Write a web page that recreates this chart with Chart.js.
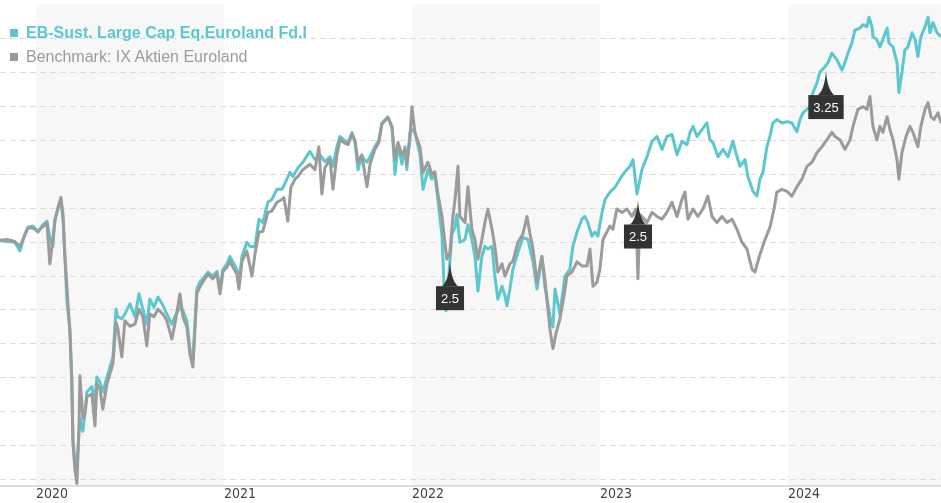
<!DOCTYPE html>
<html>
<head>
<meta charset="utf-8">
<script src="https://cdn.jsdelivr.net/npm/chart.js@4.4.1/dist/chart.umd.min.js"></script>
<style>
  html, body { margin: 0; padding: 0; background: #fff; }
  #wrap { position: relative; width: 941px; height: 503px; }
  #legend {
    position: absolute; left: 10px; top: 21px;
    font-family: Arial, "Liberation Sans", sans-serif; font-size: 16px; line-height: 24px;
  }
  #legend .sq { display: inline-block; width: 8px; height: 8px; margin-right: 8px; vertical-align: 1px; }
  #legend .fund { color: #5bc7cf; font-weight: bold; }
  #legend .bench { color: #9b9b9b; }
</style>
</head>
<body>
<div id="wrap">
  <canvas id="chart" width="941" height="503"></canvas>
  <div id="legend">
    <div class="fund"><span class="sq" style="background:#5bc7cf"></span>EB-Sust. Large Cap Eq.Euroland Fd.I</div>
    <div class="bench"><span class="sq" style="background:#9b9b9b"></span>Benchmark: IX Aktien Euroland</div>
  </div>
</div>
<script>
// performance in % since start, dates as decimal years
const fundDates = [2019.809,2019.846,2019.888,2019.915,2019.941,2019.957,2019.984,2020.011,2020.032,2020.059,2020.074,2020.090,2020.101,2020.117,2020.133,2020.144,2020.154,2020.165,2020.181,2020.191,2020.197,2020.207,2020.218,2020.234,2020.250,2020.261,2020.271,2020.298,2020.314,2020.324,2020.340,2020.356,2020.378,2020.394,2020.410,2020.426,2020.436,2020.457,2020.473,2020.500,2020.527,2020.548,2020.569,2020.590,2020.606,2020.628,2020.649,2020.676,2020.697,2020.723,2020.739,2020.766,2020.782,2020.803,2020.819,2020.835,2020.856,2020.872,2020.899,2020.915,2020.941,2020.963,2020.979,2020.995,2021.016,2021.032,2021.048,2021.069,2021.080,2021.096,2021.122,2021.138,2021.165,2021.186,2021.207,2021.234,2021.255,2021.282,2021.309,2021.335,2021.351,2021.367,2021.394,2021.420,2021.457,2021.484,2021.511,2021.537,2021.564,2021.580,2021.601,2021.617,2021.638,2021.660,2021.681,2021.697,2021.713,2021.734,2021.761,2021.777,2021.803,2021.824,2021.840,2021.872,2021.894,2021.910,2021.926,2021.947,2021.963,2021.973,2021.989,2022.005,2022.016,2022.043,2022.059,2022.085,2022.106,2022.122,2022.138,2022.160,2022.170,2022.181,2022.191,2022.202,2022.213,2022.229,2022.239,2022.255,2022.282,2022.298,2022.319,2022.335,2022.351,2022.372,2022.388,2022.404,2022.426,2022.441,2022.457,2022.479,2022.495,2022.505,2022.521,2022.537,2022.564,2022.590,2022.617,2022.644,2022.665,2022.691,2022.707,2022.734,2022.750,2022.761,2022.787,2022.814,2022.840,2022.856,2022.878,2022.904,2022.920,2022.936,2022.957,2022.973,2022.989,2023.011,2023.027,2023.053,2023.080,2023.106,2023.133,2023.160,2023.176,2023.197,2023.223,2023.250,2023.277,2023.303,2023.330,2023.356,2023.383,2023.410,2023.436,2023.463,2023.479,2023.495,2023.516,2023.543,2023.569,2023.585,2023.601,2023.628,2023.654,2023.681,2023.707,2023.729,2023.745,2023.771,2023.787,2023.814,2023.835,2023.851,2023.867,2023.888,2023.904,2023.920,2023.941,2023.968,2023.995,2024.021,2024.048,2024.064,2024.080,2024.101,2024.117,2024.133,2024.154,2024.170,2024.197,2024.213,2024.234,2024.261,2024.287,2024.303,2024.319,2024.340,2024.356,2024.383,2024.399,2024.420,2024.431,2024.447,2024.452,2024.473,2024.489,2024.505,2024.527,2024.537,2024.559,2024.580,2024.590,2024.606,2024.622,2024.638,2024.660,2024.676,2024.691,2024.707,2024.729,2024.745,2024.755,2024.771,2024.793,2024.814];
const fundValues = [0.3,0.1,0.0,-1.3,1.2,2.2,2.4,1.5,2.4,3.1,0.7,-0.7,3.4,4.9,6.0,3.4,-2.1,-8.8,-12.8,-20.1,-29.0,-32.4,-32.9,-26.0,-27.9,-25.0,-22.1,-21.3,-23.8,-19.9,-20.6,-22.1,-19.9,-18.4,-16.9,-9.9,-11.0,-11.3,-10.6,-9.1,-11.0,-7.6,-9.9,-12.1,-8.4,-9.6,-8.1,-9.3,-10.6,-12.1,-11.0,-9.6,-10.1,-11.6,-15.7,-17.5,-6.9,-5.9,-5.0,-4.4,-5.0,-4.3,-6.9,-4.0,-3.2,-2.1,-2.9,-4.0,-5.9,-2.1,0.0,-0.6,-0.7,3.4,2.9,5.9,6.3,7.8,7.8,9.3,10.3,9.7,11.0,11.8,13.4,12.2,12.9,11.9,12.6,11.2,14.1,15.6,15.1,14.7,16.2,14.7,10.7,12.6,11.8,12.6,14.1,15.1,17.6,18.5,17.1,10.0,14.4,11.5,14.1,10.7,16.2,16.6,16.2,12.9,7.8,10.7,9.3,10.0,6.3,0.9,-5.9,-10.1,-6.9,-2.8,1.2,2.2,4.1,0.0,0.4,2.6,0.4,-2.1,-7.2,-2.1,-0.6,-1.0,-0.6,-5.0,-8.4,-6.5,-7.9,-9.4,-6.9,-4.0,-1.5,0.7,0.4,-2.9,-6.9,-2.1,-6.5,-10.9,-12.5,-6.9,-10.6,-5.0,-4.0,-0.6,1.5,3.4,3.8,2.9,0.9,1.5,0.9,4.4,6.3,7.4,8.1,9.3,10.4,11.2,12.2,7.1,10.7,12.6,14.9,15.6,13.7,15.6,15.9,12.9,14.9,14.4,16.2,17.1,15.6,16.6,17.6,15.1,14.7,12.6,13.7,12.6,14.9,12.6,11.2,12.2,9.7,7.5,6.8,9.3,10.3,14.1,15.6,17.6,18.1,17.6,17.8,17.6,16.3,18.1,19.1,19.6,20.0,22.1,23.5,25.1,25.9,26.5,27.9,26.9,25.4,26.5,27.9,29.4,31.3,31.6,32.1,31.8,33.2,31.8,30.3,29.9,28.8,29.9,31.6,29.4,28.8,26.5,22.1,25.0,28.4,28.8,30.9,29.9,27.4,30.3,31.8,33.2,30.9,32.4,30.9,30.3];

const benchDates = [2019.809,2019.846,2019.888,2019.915,2019.941,2019.957,2019.984,2020.011,2020.032,2020.059,2020.074,2020.090,2020.101,2020.117,2020.133,2020.144,2020.154,2020.165,2020.181,2020.191,2020.197,2020.207,2020.218,2020.229,2020.234,2020.250,2020.261,2020.271,2020.298,2020.314,2020.324,2020.340,2020.356,2020.378,2020.394,2020.410,2020.426,2020.436,2020.457,2020.473,2020.500,2020.527,2020.548,2020.569,2020.590,2020.606,2020.628,2020.649,2020.676,2020.697,2020.723,2020.739,2020.766,2020.782,2020.803,2020.819,2020.835,2020.856,2020.872,2020.899,2020.915,2020.941,2020.963,2020.979,2020.995,2021.016,2021.032,2021.048,2021.069,2021.080,2021.096,2021.122,2021.149,2021.165,2021.186,2021.207,2021.234,2021.255,2021.282,2021.309,2021.319,2021.340,2021.356,2021.378,2021.394,2021.420,2021.457,2021.484,2021.505,2021.521,2021.537,2021.564,2021.580,2021.601,2021.617,2021.638,2021.660,2021.681,2021.697,2021.713,2021.734,2021.750,2021.761,2021.777,2021.803,2021.824,2021.840,2021.872,2021.894,2021.910,2021.926,2021.947,2021.963,2021.973,2021.989,2022.000,2022.016,2022.043,2022.059,2022.085,2022.106,2022.122,2022.138,2022.160,2022.176,2022.186,2022.202,2022.218,2022.229,2022.245,2022.255,2022.282,2022.298,2022.319,2022.335,2022.351,2022.372,2022.388,2022.404,2022.426,2022.441,2022.457,2022.479,2022.495,2022.521,2022.537,2022.564,2022.590,2022.612,2022.628,2022.644,2022.665,2022.691,2022.707,2022.734,2022.750,2022.766,2022.787,2022.809,2022.824,2022.851,2022.878,2022.904,2022.931,2022.947,2022.963,2022.984,2023.000,2023.016,2023.037,2023.053,2023.069,2023.090,2023.117,2023.144,2023.170,2023.191,2023.202,2023.213,2023.223,2023.250,2023.277,2023.303,2023.330,2023.356,2023.383,2023.410,2023.436,2023.452,2023.468,2023.495,2023.521,2023.548,2023.574,2023.596,2023.622,2023.649,2023.676,2023.702,2023.729,2023.755,2023.782,2023.809,2023.824,2023.851,2023.878,2023.904,2023.926,2023.941,2023.968,2023.995,2024.021,2024.048,2024.074,2024.101,2024.128,2024.154,2024.181,2024.207,2024.234,2024.250,2024.277,2024.303,2024.330,2024.346,2024.372,2024.399,2024.420,2024.436,2024.452,2024.473,2024.489,2024.505,2024.527,2024.543,2024.559,2024.580,2024.590,2024.606,2024.628,2024.649,2024.665,2024.691,2024.707,2024.729,2024.745,2024.761,2024.777,2024.798,2024.814];
const benchValues = [0.3,0.4,0.1,-0.6,1.0,2.1,2.1,1.6,2.2,2.8,-3.2,0.4,3.1,5.1,6.6,4.1,-1.8,-6.6,-13.5,-20.9,-29.7,-33.4,-35.6,-27.5,-19.7,-26.0,-25.3,-22.8,-22.4,-27.1,-20.9,-21.6,-24.6,-20.9,-19.4,-17.9,-11.8,-12.8,-16.9,-11.6,-12.4,-12.1,-9.9,-11.0,-15.3,-10.6,-11.0,-9.9,-10.6,-11.6,-14.3,-12.1,-7.6,-11.0,-12.5,-16.5,-18.4,-7.6,-6.6,-5.4,-4.7,-5.4,-4.7,-7.6,-4.3,-3.7,-2.8,-3.7,-4.7,-6.9,-2.8,-1.3,-5.0,-1.8,1.5,1.6,4.4,4.6,5.9,6.3,6.6,3.1,8.1,9.3,9.7,10.7,11.5,10.7,14.1,7.1,11.0,12.2,7.8,12.9,15.1,14.7,14.4,15.9,15.1,11.8,12.9,10.0,8.2,11.5,13.7,14.7,17.4,18.4,16.9,12.2,14.7,12.9,13.7,11.5,15.1,20.0,16.2,14.0,10.3,11.8,10.0,10.4,7.1,3.8,-0.3,-2.5,-1.5,3.8,6.3,11.2,3.8,2.9,8.2,1.9,0.4,-2.5,0.4,2.9,4.9,1.9,-0.6,-4.4,-3.2,-5.0,-3.2,-2.8,0.0,1.2,3.8,1.2,-1.0,-5.9,-2.1,-5.4,-12.8,-15.7,-13.5,-11.3,-7.9,-5.0,-4.4,-2.9,-3.5,-3.5,-1.0,-6.5,-5.9,-4.0,0.4,1.5,2.4,1.9,4.9,4.4,4.9,3.8,4.9,-5.4,4.1,3.8,2.9,4.4,3.8,3.4,4.4,5.9,3.8,6.3,7.4,3.4,4.9,3.8,4.9,6.8,3.8,2.9,3.8,2.9,3.4,1.9,0.0,-1.0,-4.0,-4.4,-1.8,0.4,2.2,4.9,7.4,7.8,7.5,6.8,8.2,9.3,11.2,11.8,13.2,14.1,15.1,16.2,15.6,15.1,13.7,15.1,17.1,19.6,20.0,19.6,21.5,17.1,15.1,17.1,16.2,18.5,16.6,15.1,12.2,9.3,13.2,15.6,17.1,16.2,14.1,17.1,19.6,20.6,18.5,18.1,19.1,17.6];

// distribution flags
const flagDates = [2022.202, 2023.202, 2024.202];
const flagValues = [-2.8, 6.3, 25.4];
const flagLabels = ['2.5', '2.5', '3.25'];

const yearTicks = [2020, 2021, 2022, 2023, 2024];
const shadedYears = [2020, 2022, 2024];

const toPoints = (xs, ys) => xs.map((x, i) => ({ x: x, y: ys[i] }));

const bandsPlugin = {
  id: 'bands',
  beforeDraw(chart) {
    const { ctx, chartArea, scales } = chart;
    ctx.save();
    ctx.fillStyle = '#f7f7f7';
    shadedYears.forEach(yr => {
      const x1 = Math.max(scales.x.getPixelForValue(yr), chartArea.left);
      const x2 = Math.min(scales.x.getPixelForValue(yr + 1), chartArea.right);
      ctx.fillRect(x1, chartArea.top, x2 - x1, chartArea.bottom - chartArea.top);
    });
    ctx.restore();
  }
};

const flagsPlugin = {
  id: 'flags',
  afterDatasetsDraw(chart) {
    const { ctx, scales } = chart;
    ctx.save();
    ctx.font = '13px Arial, "Liberation Sans", sans-serif';
    ctx.textAlign = 'center';
    ctx.textBaseline = 'middle';
    flagDates.forEach((d, i) => {
      const x = Math.round(scales.x.getPixelForValue(d));
      const y = scales.y.getPixelForValue(flagValues[i]);
      const w = ctx.measureText(flagLabels[i]).width + 10;
      const h = 24;
      const top = y + 25;
      ctx.fillStyle = '#333333';
      ctx.beginPath();
      ctx.moveTo(x, y);
      ctx.quadraticCurveTo(x + 1, top - 6, x + 8, top);
      ctx.lineTo(x - 8, top);
      ctx.quadraticCurveTo(x - 1, top - 6, x, y);
      ctx.fill();
      ctx.fillRect(x - w / 2, top, w, h);
      ctx.fillStyle = '#ffffff';
      ctx.fillText(flagLabels[i], x, top + h / 2 + 1);
    });
    ctx.restore();
  }
};

new Chart(document.getElementById('chart'), {
  type: 'line',
  data: {
    datasets: [
      {
        label: 'Benchmark: IX Aktien Euroland',
        data: toPoints(benchDates, benchValues),
        borderColor: '#9b9b9b',
        borderWidth: 3
      },
      {
        label: 'EB-Sust. Large Cap Eq.Euroland Fd.I',
        data: toPoints(fundDates, fundValues),
        borderColor: '#5bc7cf',
        borderWidth: 3
      }
    ]
  },
  options: {
    responsive: false,
    animation: false,
    layout: { padding: { top: 4, left: 0, right: 0 } },
    elements: {
      point: { radius: 0 },
      line: { tension: 0, borderJoinStyle: 'round' }
    },
    plugins: {
      legend: { display: false },
      tooltip: { enabled: false }
    },
    scales: {
      x: {
        type: 'linear',
        min: fundDates[0],
        max: fundDates[fundDates.length - 1],
        afterBuildTicks: axis => { axis.ticks = yearTicks.map(v => ({ value: v })); },
        grid: { display: false, drawTicks: false },
        border: { display: true, color: '#dddddd', width: 2 },
        ticks: {
          align: 'start',
          padding: 0,
          color: '#444444',
          autoSkip: false,
          maxRotation: 0,
          font: { family: '"DejaVu Sans Condensed", "Liberation Sans Narrow", sans-serif', size: 14 },
          callback: v => String(v)
        }
      },
      y: {
        min: -36.0,
        max: 35.15,
        afterBuildTicks: axis => {
          const t = [];
          for (let v = -35; v <= 30; v += 5) t.push({ value: v });
          axis.ticks = t;
        },
        border: { display: false, dash: [6, 4] },
        grid: { color: '#dcdcdc', lineWidth: 1, drawTicks: false },
        ticks: { display: false }
      }
    }
  },
  plugins: [bandsPlugin, flagsPlugin]
});
</script>
</body>
</html>
